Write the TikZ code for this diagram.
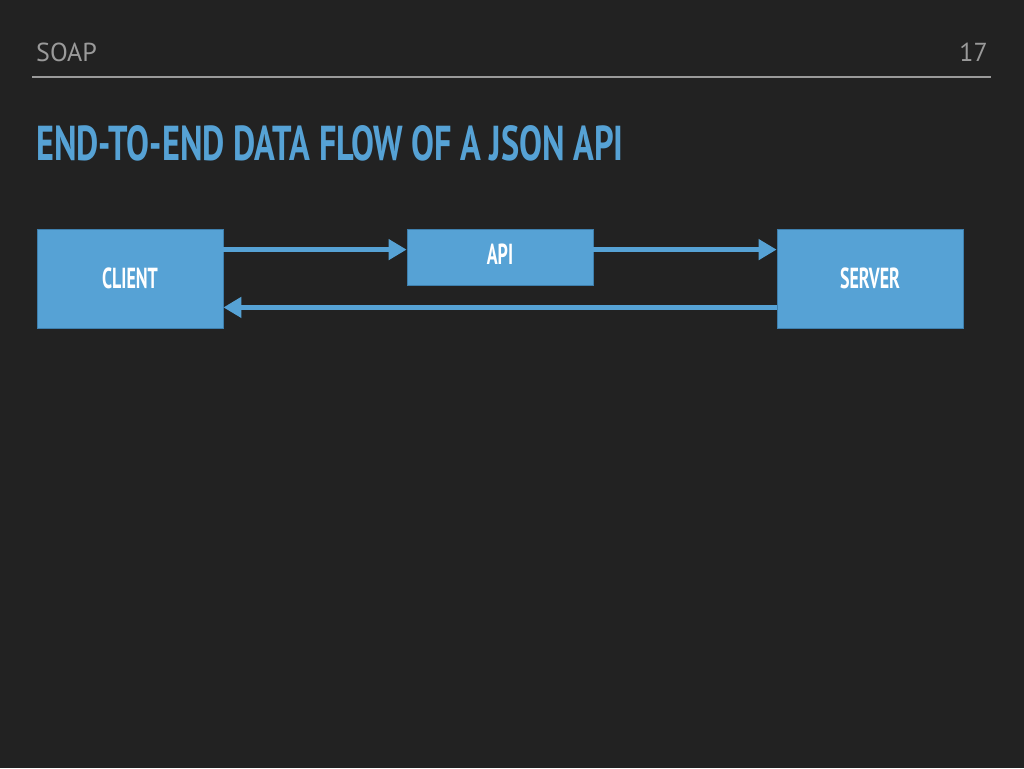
\documentclass[tikz,border=0pt]{standalone}
\usepackage{fontspec}
\setmainfont{PT Sans}
\newfontfamily\condfont[FakeStretch=0.62]{PT Sans}
\newfontfamily\titlefont[FakeStretch=0.70]{PT Sans}
\newfontfamily\headfont{PT Sans}
\usepackage{tikz}
\usetikzlibrary{arrows.meta}
\definecolor{slidebg}{HTML}{222222}
\definecolor{boxblue}{HTML}{56A2D5}
\definecolor{boxedge}{HTML}{3E7FAD}
\definecolor{headgray}{HTML}{9A9A9A}
\tikzstyle{block}=[rectangle, fill=boxblue, draw=boxedge, line width=0.8pt,
  minimum width=186pt, text=white, font=\condfont\bfseries\fontsize{29}{29}\selectfont]
\tikzstyle{flow}=[draw=boxblue, line width=4.8pt, -{Triangle[length=18pt,width=20pt]}]

\begin{document}
\begin{tikzpicture}[x=1pt,y=-1pt]
     \fill[slidebg] (0,0) rectangle (1024,768);
     \useasboundingbox (0,0) rectangle (1024,768);
     % header
     \node (head) [anchor=base west, text=headgray, inner sep=0pt,
       font=\headfont\fontsize{26}{26}\selectfont] at (36,62) {SOAP};
     \node (page) [anchor=base east, text=headgray, inner sep=0pt,
       font=\headfont\fontsize{26}{26}\selectfont] at (988,62) {17};
     \draw[headgray, line width=2pt] (32,77) -- (991,77);
     \node (title) [anchor=base west, text=boxblue, inner sep=0pt,
       font=\titlefont\bfseries\fontsize{49}{49}\selectfont] at (36,160) {END-TO-END DATA FLOW OF A JSON API};
     % boxes
     \node (client) [block, minimum height=99pt] at (130,278.5) {CLIENT};
     \node (api) [block, minimum height=56pt, text depth=6pt] at (500,257) {API};
     \node (server) [block, minimum height=99pt] at (870,278.5) {SERVER};
     % arrows
     \draw[flow] ([yshift=-21pt]client.north east) -- ([yshift=-21pt]api.north west);
     \draw[flow] ([yshift=-21pt]api.north east) -- ([yshift=-21pt]server.north west);
     \draw[flow] ([yshift=21pt]server.south west) -- ([yshift=21pt]client.south east);
\end{tikzpicture}
\end{document}
